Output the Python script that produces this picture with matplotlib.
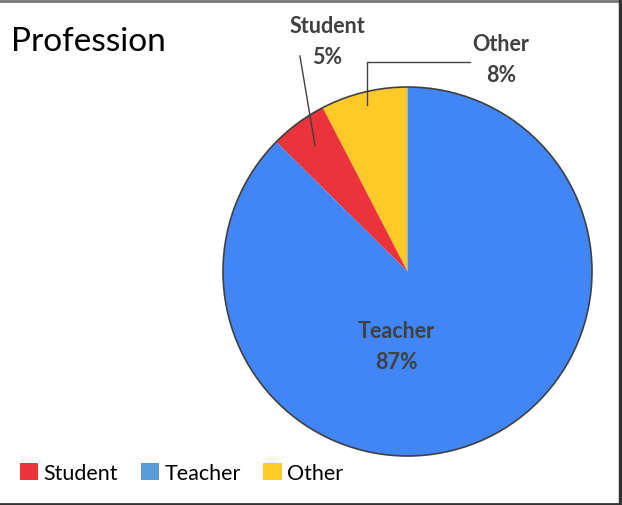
import matplotlib.pyplot as plt
import numpy as np
from matplotlib.patches import Patch, Circle
from matplotlib.lines import Line2D

plt.rcParams['font.family'] = ['Lato', 'DejaVu Sans']

# data (pie drawn counter-clockwise from 12 o'clock)
labels = ['Other', 'Student', 'Teacher']
values = [7.6, 5.0, 87.4]
colors = ['#FFCA28', '#EA333A', '#4285F4']

legend_order = ['Student', 'Teacher', 'Other']
legend_colors = ['#EA333A', '#5B9BD5', '#FFCA28']

text_color = '#404040'

fig = plt.figure(figsize=(6.22, 5.06), dpi=100)
ax = fig.add_axes([223 / 622, 49 / 506, 369 / 622, 369 / 506])

wedges, _ = ax.pie(values, colors=colors, startangle=90, counterclock=True,
                   radius=1, wedgeprops=dict(linewidth=0))
ax.add_patch(Circle((0, 0), 1, fill=False, edgecolor='#404040', linewidth=1.2,
                    clip_on=False))
ax.set_xlim(-1, 1)
ax.set_ylim(-1, 1)
ax.set_aspect('equal')
ax.axis('off')

pct = [v / sum(values) * 100 for v in values]
mid = {}
for w, lab in zip(wedges, labels):
    mid[lab] = np.deg2rad((w.theta1 + w.theta2) / 2)

# labels
lab_kw = dict(ha='center', va='center', fontsize=15.5, fontweight='bold',
              color=text_color, linespacing=1.6, clip_on=False)
ax.text(-0.062, -0.405, f"Teacher\n{pct[2]:.0f}%", **lab_kw)
ax.text(-0.436, 1.249, f"Student\n{pct[1]:.0f}%", **lab_kw)
ax.text(0.507, 1.152, f"Other\n{pct[0]:.0f}%", **lab_kw)

# leader lines
a = mid['Student']
sx, sy = 0.845 * np.cos(a), 0.845 * np.sin(a)
ax.plot([sx, -0.583], [sy, 1.168], color=text_color, lw=1, clip_on=False)
a = mid['Other']
ox, oy = 0.93 * np.cos(a), 0.93 * np.sin(a)
ax.plot([ox, ox, 0.339], [oy, 1.135, 1.135], color=text_color, lw=1, clip_on=False)

fig.text(11 / 622, 1 - 42 / 506, 'Profession', fontsize=24, va='center', ha='left')

handles = [Patch(facecolor=c, edgecolor='none') for c in legend_colors]
fig.legend(handles, legend_order, loc='lower left', bbox_to_anchor=(20 / 622, 22 / 506),
           ncol=3, frameon=False, fontsize=15.5, handlelength=0.85, handleheight=0.85,
           handletextpad=0.25, columnspacing=1.05, borderaxespad=0, borderpad=0)

# frame
fig.add_artist(Line2D([0, 620 / 622], [1 - 2 / 506] * 2, color='#777777', lw=2))
fig.add_artist(Line2D([620 / 622] * 2, [1.5 / 506, 1 - 1 / 506], color='#333333', lw=2.5))
fig.add_artist(Line2D([0, 621 / 622], [1.5 / 506] * 2, color='#333333', lw=2))

fig.savefig('out.png', dpi=100)
